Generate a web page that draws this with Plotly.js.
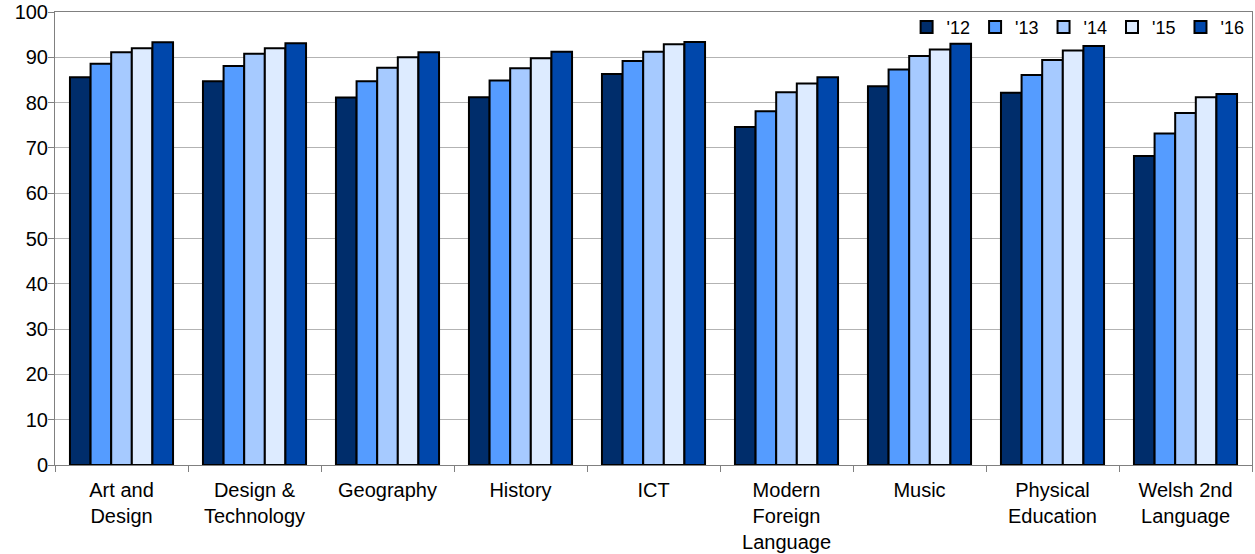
<!DOCTYPE html>
<html>
<head>
<meta charset="utf-8">
<script src="https://cdn.plot.ly/plotly-3.0.1.min.js"></script>
<style>html,body{margin:0;padding:0;background:#fff;}#chart{width:1255px;height:554px;}</style>
</head>
<body>
<div id="chart"></div>
<script>
var categories = ["Art and<br>Design", "Design &<br>Technology", "Geography", "History", "ICT", "Modern<br>Foreign<br>Language", "Music", "Physical<br>Education", "Welsh 2nd<br>Language"];
var seriesNames = ["'12", "'13", "'14", "'15", "'16"];
var y12 = [85.6, 84.7, 81.1, 81.2, 86.3, 74.6, 83.6, 82.2, 68.2];
var y13 = [88.6, 88.1, 84.7, 84.9, 89.2, 78.1, 87.3, 86.1, 73.2];
var y14 = [91.1, 90.8, 87.7, 87.6, 91.2, 82.3, 90.3, 89.4, 77.7];
var y15 = [92.0, 92.0, 90.0, 89.8, 92.9, 84.2, 91.7, 91.5, 81.2];
var y16 = [93.3, 93.1, 91.1, 91.2, 93.4, 85.6, 93.0, 92.5, 81.9];
var seriesValues = [y12, y13, y14, y15, y16];
var colors = ["#002D6B", "#559CFF", "#A6CAFF", "#DDEBFF", "#0047AB"];

var traces = seriesValues.map(function(v, i) {
  return {
    type: "bar",
    name: seriesNames[i],
    x: categories,
    y: v,
    marker: {color: colors[i], line: {color: "#000000", width: 2}},
    hoverinfo: "x+y"
  };
});

var layout = {
  width: 1255, height: 554,
  margin: {l: 55, r: 3, t: 12, b: 89},
  paper_bgcolor: "#ffffff", plot_bgcolor: "#ffffff",
  font: {family: "Liberation Sans, Arial, sans-serif", size: 20, color: "#000000"},
  barmode: "group",
  bargap: 0.225,
  bargroupgap: 0,
  showlegend: true,
  legend: {
    orientation: "h", x: 0.998, xanchor: "right", y: 1.007, yanchor: "top",
    font: {size: 18}, bgcolor: "rgba(0,0,0,0)", traceorder: "normal",
    itemwidth: 30
  },
  xaxis: {
    type: "category",
    tickson: "boundaries",
    ticks: "outside", ticklen: 6, tickcolor: "#808080", tickwidth: 1,
    showgrid: false,
    showline: true, linecolor: "#808080", linewidth: 1, mirror: true,
    tickfont: {size: 20},
    ticklabelstandoff: 7,
    automargin: false
  },
  yaxis: {
    range: [0, 100], dtick: 10,
    ticks: "outside", ticklen: 6, tickcolor: "#808080", tickwidth: 1,
    showgrid: true, gridcolor: "#B3B3B3", gridwidth: 1,
    showline: true, linecolor: "#808080", linewidth: 1, mirror: true,
    zeroline: false,
    tickfont: {size: 20},
    ticklabelstandoff: -4,
    automargin: false
  }
};

Plotly.newPlot("chart", traces, layout, {displayModeBar: false, staticPlot: true});
</script>
</body>
</html>
